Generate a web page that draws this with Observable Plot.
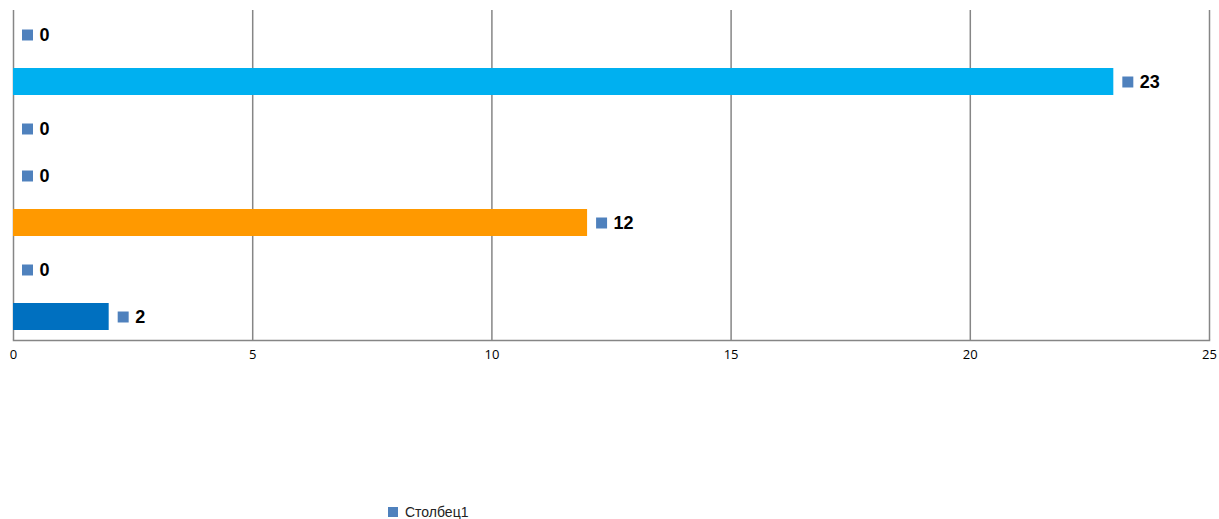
<!DOCTYPE html>
<html><head><meta charset="utf-8">
<script src="https://cdn.jsdelivr.net/npm/d3@7"></script>
<script src="https://cdn.jsdelivr.net/npm/@observablehq/plot@0.6"></script>
<style>
body{margin:0;background:#fff;}
#wrap{position:relative;width:1219px;height:519px;}
#legend{position:absolute;left:388px;top:504px;font-family:"Liberation Sans Narrow","Liberation Sans",Arial,sans-serif;font-stretch:condensed;font-size:14px;color:#222;display:flex;align-items:center;}
#legend span.sw{display:inline-block;width:10px;height:10px;background:#4F81BD;margin-right:7px;}
.lbl text{font-stretch:condensed;}
</style></head>
<body><div id="wrap"><div id="chart"></div><div id="legend"><span class="sw"></span>Столбец1</div></div>
<script>
const categories = ["1","2","3","4","5","6","7"];
const values = [0, 23, 0, 0, 12, 0, 2];
const colors = ["#8064A2","#00B0F0","#FF00FF","#C0C0C0","#FF9900","#92D050","#0070C0"];
const xTicks = [0,5,10,15,20,25];
const seriesName = "Столбец1";

const data = categories.map((c,i)=>({cat:c, value:values[i], color:colors[i]}));

const chart = Plot.plot({
  width:1219, height:375,
  marginLeft:13, marginRight:10, marginTop:10, marginBottom:35,
  x:{domain:[0,25], ticks:xTicks, tickSize:0, tickPadding:9, label:null},
  y:{domain:categories, paddingInner:0.43, paddingOuter:0.215, axis:null},
  style:{fontFamily:"Calibri, Carlito, 'Open Sans', sans-serif", fontSize:"13px", color:"#000"},
  marks:[
    Plot.ruleX(xTicks, {stroke:"#868686", strokeWidth:1.5}),
    Plot.barX(data, {y:"cat", x:"value", fill:"color"}),
    Plot.dot(data, {y:"cat", x:"value", symbol:"square", r:6.2, fill:"#4F81BD", dx:14}),
    Plot.text(data, {y:"cat", x:"value", text:d=>String(d.value), dx:26, textAnchor:"start",
      fontWeight:"bold", fontSize:18, className:"lbl", fontFamily:"'Liberation Sans Narrow','Liberation Sans',Arial,sans-serif", fill:"#000"}),
    Plot.axisX({ticks:xTicks, tickSize:0, tickPadding:9, stroke:"#868686", fontSize:13, fontFamily:"'Open Sans', sans-serif", fill:"#000"}),
    Plot.frame({anchor:"bottom", stroke:"#868686", strokeWidth:1.5})
  ]
});
document.getElementById("chart").appendChild(chart);
</script></body></html>
